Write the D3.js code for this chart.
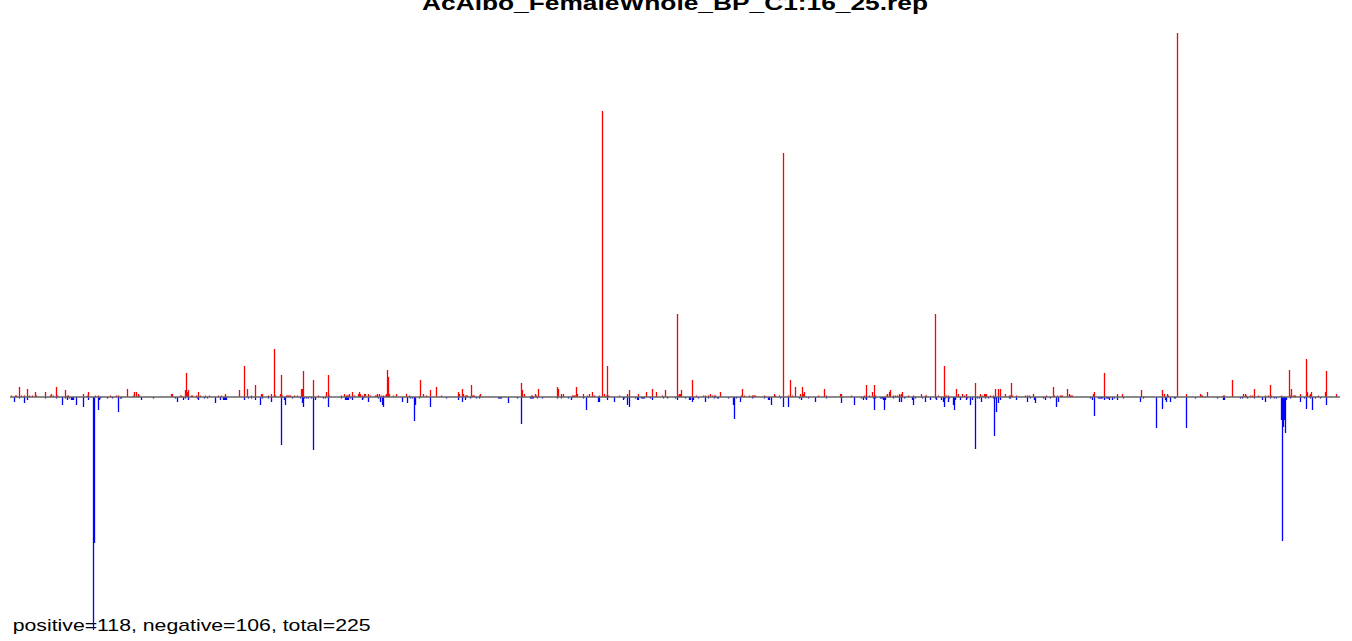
<!DOCTYPE html>
<html>
<head>
<meta charset="utf-8">
<script src="https://cdn.jsdelivr.net/npm/d3@7"></script>
<style>
  html, body { margin: 0; padding: 0; background: #ffffff; }
  svg { display: block; }
</style>
</head>
<body>
<svg id="chart" width="1352" height="641"></svg>
<script>
// ---- data (position, signal) ----
const chartTitle = "AcAlbo_FemaleWhole_BP_C1:16_25.rep";
const summaryText = "positive=118, negative=106, total=225";
const positionRange = [10, 1340];

const plusStrand = [
  [11,1.5],[15,1.5],[16,1.5],[19,10],[21,1.5],[24,1.5],[27,8],[29,1.5],[32,1.5],[35,5],[36,1.5],
  [45,5],[50,1.5],[51,3],[53,1.5],[56,10],[57,1.5],[65,7],[67,1.5],[68,1.5],[83,3],[87,1.5],[88,5],
  [95,1.5],[98,1.5],[110,1.5],[116,1.5],[118,1.5],[127,8],[133,1.5],[134,5],[136,5],[138,3],[139,1.5],
  [171,3],[172,3],[180,1.5],[181,1.5],[185,7],[186,24],[187,5],[188,7],[191,1.5],[192,1.5],[196,1.5],
  [198,5],[200,1.5],[205,1.5],[209,1.5],[218,1.5],[221,1.5],[225,3],
  [239,7],[244,31],[247,8],[251,1.5],[255,12],[261,3],[262,3],[268,1.5],[271,3],[274,48],[275,1.5],
  [280,3],[281,22],[282,1.5],[286,1.5],[287,1.5],[288,1.5],[289,1.5],[290,1.5],[294,1.5],[297,1.5],
  [301,8],[302,8],[303,26],[313,17],[318,1.5],[326,5],[328,22],[329,1.5],[341,1.5],[344,3],[346,1.5],
  [347,1.5],[348,1.5],[349,3],[352,5],[354,1.5],[358,3],[359,5],[360,3],[362,1.5],[364,3],[365,3],
  [368,3],[370,1.5],[375,1.5],[376,1.5],[377,3],[379,3],[381,1.5],[383,1.5],[385,1.5],[386,3],[387,27],
  [388,20],[389,3],[393,1.5],[396,3],[406,3],[409,1.5],[420,17],[423,3],[426,1.5],[430,7],[436,10],[441,1.5],
  [458,5],[459,3],[462,8],[463,3],[465,1.5],[466,1.5],[467,1.5],[471,12],[472,1.5],[473,1.5],[474,1.5],
  [479,1.5],[480,3],[521,14],[522,7],[524,3],[531,1.5],[532,1.5],[535,3],[536,1.5],[538,8],[557,10],
  [558,8],[561,3],[563,3],[572,1.5],[573,1.5],[574,1.5],[575,1.5],[576,10],[577,3],[583,3],[587,1.5],
  [589,3],[592,5],[594,1.5],[599,1.5],[602,286],[604,3],[606,1.5],[607,31],[608,1.5],[619,1.5],[627,3],
  [629,7],[638,3],[646,5],[652,8],[656,5],[662,1.5],[665,7],
  [677,83],[678,1.5],[679,3],[680,3],[681,7],[692,17],[696,1.5],[703,1.5],[705,1.5],[708,1.5],[710,3],
  [712,1.5],[714,1.5],[715,1.5],[720,5],[741,1.5],[742,8],[744,1.5],[749,1.5],[752,1.5],[753,1.5],
  [754,1.5],[755,1.5],[764,1.5],[774,3],[775,1.5],[779,1.5],[783,244],[788,1.5],[790,17],[792,1.5],
  [795,10],[800,3],[802,10],[803,3],[804,5],[818,1.5],[824,8],[826,1.5],[840,3],[841,3],[851,1.5],
  [864,1.5],[866,12],[869,1.5],[872,5],[874,12],[875,1.5],
  [886,1.5],[887,3],[889,5],[890,7],[893,1.5],[895,1.5],[897,1.5],[899,3],[900,1.5],[901,3],[902,5],
  [908,1.5],[913,1.5],[921,3],[925,1.5],[926,1.5],[935,83],[938,1.5],[944,31],[946,1.5],[948,1.5],
  [956,8],[958,3],[962,3],[964,1.5],[966,3],[975,14],[980,3],[982,1.5],[984,3],[985,3],[986,3],
  [990,1.5],[993,1.5],[995,8],[998,8],[1000,8],[1005,3],[1009,1.5],[1010,1.5],[1011,14],[1012,1.5],
  [1016,1.5],[1025,1.5],[1027,1.5],[1029,1.5],[1033,3],[1046,1.5],[1053,10],[1054,1.5],[1057,1.5],
  [1060,1.5],[1061,1.5],[1062,1.5],[1067,8],[1069,3],[1070,1.5],[1071,1.5],[1072,1.5],[1093,3],[1094,5],
  [1104,24],[1117,3],[1122,3],[1141,7],[1162,7],[1164,3],[1167,3],[1168,1.5],[1177,364],[1186,3],
  [1200,3],[1201,1.5],[1202,1.5],[1207,5],[1223,1.5],[1224,1.5],[1232,17],[1243,3],[1245,3],[1246,1.5],
  [1250,1.5],[1252,1.5],[1254,8],[1258,1.5],[1265,1.5],[1268,1.5],[1270,12],[1271,1.5],[1281,1.5],
  [1289,27],[1290,1.5],[1291,8],[1293,1.5],[1294,1.5],[1295,1.5],[1300,3],[1306,38],[1307,5],[1309,1.5],
  [1310,3],[1311,5],[1318,1.5],[1325,5],[1326,26],[1336,3]
];

const minusStrand = [
  [14,5],[19,1.5],[24,6],[27,3],[45,1.5],[56,1.5],[62,8],[65,1.5],[67,3],[69,1.5],[71,3],[72,3],[73,3],
  [76,8],[83,10],[88,3],[93,233],[94,146],[98,13],[99,3],[100,1.5],[107,1.5],[112,1.5],[118,15],[120,1.5],
  [121,1.5],[141,3],[153,1.5],[175,1.5],[177,5],[183,3],[185,1.5],[188,3],[197,1.5],[198,3],[204,1.5],
  [207,1.5],[215,6],[220,3],[223,3],[224,3],[225,3],[226,3],
  [244,3],[248,1.5],[251,1.5],[255,3],[260,8],[262,1.5],[268,1.5],[271,5],[281,48],[284,3],[285,8],
  [292,1.5],[300,1.5],[302,6],[303,10],[304,1.5],[306,1.5],[308,1.5],[311,1.5],[313,53],[315,3],
  [323,1.5],[325,1.5],[328,10],[341,1.5],[345,3],[346,3],[347,3],[348,3],[350,1.5],[352,3],[362,3],
  [363,1.5],[368,5],[378,1.5],[380,5],[382,8],[383,10],[402,5],[407,6],[410,1.5],[412,1.5],[414,24],
  [415,8],[419,1.5],[430,10],[446,1.5],
  [458,3],[462,5],[465,3],[470,1.5],[476,1.5],[479,1.5],[498,1.5],[499,1.5],[500,1.5],[501,1.5],[508,6],
  [517,1.5],[521,27],[530,1.5],[531,1.5],[532,1.5],[533,1.5],[537,1.5],[542,1.5],[557,1.5],[561,1.5],
  [568,1.5],[571,3],[583,1.5],[586,13],[598,5],[599,5],[607,3],[614,5],[623,3],[624,1.5],[627,8],
  [629,10],[635,1.5],[637,3],[638,3],[641,1.5],[642,1.5],[643,1.5],[644,1.5],[650,1.5],[652,3],[663,1.5],
  [667,1.5],[675,1.5],[677,3],[685,1.5],[689,3],[690,3],[692,5],[693,3],[698,1.5],[705,5],[708,1.5],
  [714,1.5],[717,1.5],[718,1.5],[728,1.5],[733,8],[734,22],[736,1.5],[740,5],[752,1.5],[764,1.5],
  [768,3],[769,3],[771,8],[780,1.5],[783,10],[788,10],[799,1.5],[801,3],[808,1.5],[815,5],[826,1.5],
  [841,6],[854,8],[861,1.5],[863,3],[865,1.5],[866,3],[873,1.5],[874,13],[875,1.5],[880,1.5],[881,1.5],
  [882,1.5],[883,3],[884,13],[885,3],
  [893,1.5],[899,5],[901,5],[904,1.5],[912,3],[913,8],[915,1.5],[922,1.5],[925,5],[930,3],[935,1.5],
  [936,3],[941,3],[943,5],[944,10],[945,1.5],[948,5],[949,1.5],[953,8],[954,13],[955,3],[960,3],[966,3],
  [967,1.5],[970,8],[972,3],[975,52],[977,1.5],[979,1.5],[981,5],[985,1.5],[988,1.5],[993,1.5],[994,39],
  [995,1.5],[996,15],[998,6],[1000,3],[1009,1.5],[1010,1.5],[1016,3],[1027,5],[1030,1.5],[1034,3],
  [1035,6],[1043,1.5],[1045,3],[1050,1.5],[1056,10],[1058,5],[1090,1.5],[1092,3],[1094,19],[1098,1.5],
  [1099,1.5],[1100,1.5],[1101,1.5],[1102,1.5],[1104,3],[1106,1.5],[1107,1.5],[1108,1.5],[1109,3],
  [1112,3],[1114,1.5],[1117,3],[1123,1.5],[1140,5],[1143,1.5],[1156,31],[1162,12],[1165,3],[1166,5],
  [1170,5],[1174,1.5],[1175,1.5],[1186,31],[1195,1.5],[1217,1.5],[1223,3],[1224,3],[1240,1.5],[1242,1.5],
  [1247,1.5],[1254,1.5],[1262,3],[1265,5],[1270,1.5],[1274,1.5],[1276,1.5],[1281,23],[1282,144],
  [1283,30],[1284,23],[1285,36],[1286,3],[1290,1.5],[1300,5],[1304,1.5],[1306,12],[1310,1.5],[1312,13],
  [1315,1.5],[1320,1.5],[1326,8]
];

// ---- drawing ----
const svg = d3.select("#chart");
const x = d3.scaleLinear().domain(positionRange).range([10, 1340]);
const y = d3.scaleLinear().domain([-233, 364]).range([630, 33]);
const barW = 1.3;

// title (top partially outside the canvas, as in the reference)
svg.append("text")
  .attr("x", 422).attr("y", 10)
  .attr("textLength", 506).attr("lengthAdjust", "spacingAndGlyphs")
  .attr("font-family", "Liberation Sans, Arial, sans-serif")
  .attr("font-weight", "bold").attr("font-size", 20)
  .attr("fill", "#000")
  .text(chartTitle);

// summary text
svg.append("text")
  .attr("x", 12.7).attr("y", 631)
  .attr("textLength", 358).attr("lengthAdjust", "spacingAndGlyphs")
  .attr("font-family", "Liberation Sans, Arial, sans-serif")
  .attr("font-size", 16.4)
  .attr("fill", "#000")
  .text(summaryText);

// positive strand bars (up, red)
svg.append("g").selectAll("rect")
  .data(plusStrand).join("rect")
  .attr("x", d => x(d[0]) - 0.15)
  .attr("width", barW)
  .attr("y", d => y(d[1]))
  .attr("height", d => y(0) - y(d[1]))
  .attr("fill", "#ff0000");

// negative strand bars (down, blue)
svg.append("g").selectAll("rect")
  .data(minusStrand).join("rect")
  .attr("x", d => x(d[0]) - 0.15)
  .attr("width", barW)
  .attr("y", y(0))
  .attr("height", d => y(-d[1]) - y(0))
  .attr("fill", "#0000ff");

// baseline
svg.append("line")
  .attr("x1", x(positionRange[0])).attr("x2", x(positionRange[1]))
  .attr("y1", y(0)).attr("y2", y(0))
  .attr("stroke", "#646464").attr("stroke-width", 1.3);
</script>
</body>
</html>
